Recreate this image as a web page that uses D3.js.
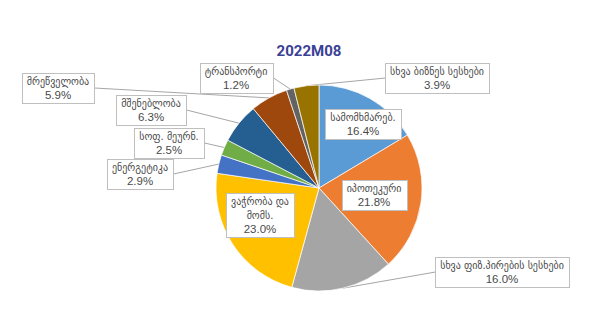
<!DOCTYPE html>
<html>
<head>
<meta charset="utf-8">
<script src="https://cdn.jsdelivr.net/npm/d3@7"></script>
<style>
  body { margin: 0; background: #fff; }
</style>
</head>
<body>
<div id="main"></div>
<script>
// chart data
const title = '2022M08';
const categories = [
  'სამომხმარებ.',
  'იპოთეკური',
  'სხვა ფიზ.პირების სესხები',
  'ვაჭრობა და\nმომს.',
  'ენერგეტიკა',
  'სოფ. მეურნ.',
  'მშენებლობა',
  'მრეწველობა',
  'ტრანსპორტი',
  'სხვა ბიზნეს სესხები'
];
const shares = [16.4, 21.8, 16.0, 23.0, 2.9, 2.5, 6.3, 5.9, 1.2, 3.9];
const colors = ['#5B9BD5', '#ED7D31', '#A5A5A5', '#FFC000', '#4472C4',
                '#70AD47', '#255E91', '#9E480E', '#636363', '#997300'];

// where each data label box sits (centre, px)
const labelCenters = [
  [363, 124], [374, 195], [502, 272], [260, 215], [140, 174],
  [169, 143], [151, 110], [58, 88], [236, 78], [437, 78]
];

const width = 616, height = 310;
const cx = 319, cy = 188, radius = 103;
const lineH = 14;

const svg = d3.select('#main').append('svg')
  .attr('width', width)
  .attr('height', height);

svg.append('text')
  .attr('x', 309)
  .attr('y', 56)
  .attr('text-anchor', 'middle')
  .attr('font-family', 'Roboto, "Liberation Sans", sans-serif')
  .attr('font-weight', 'bold')
  .attr('font-size', 15)
  .attr('fill', '#3B4195')
  .text(title);

const rows = categories.map((c, i) => ({ name: c, value: shares[i], color: colors[i], pos: labelCenters[i] }));

const pie = d3.pie().sort(null).value(d => d.value);
const arc = d3.arc().innerRadius(0).outerRadius(radius);
const arcs = pie(rows);

const leaders = svg.append('g');
const g = svg.append('g').attr('transform', `translate(${cx},${cy})`);

g.selectAll('path.slice')
  .data(arcs)
  .enter().append('path')
  .attr('class', 'slice')
  .attr('d', arc)
  .attr('fill', d => d.data.color)
  .attr('stroke', '#fff')
  .attr('stroke-width', 0.7);

const labels = svg.append('g');
const fmt = d3.format('.1f');

arcs.forEach(d => {
  const [lx, ly] = d.data.pos;
  const lines = d.data.name.split('\n').concat([fmt(d.data.value) + '%']);
  const lg = labels.append('g');
  const rect = lg.append('rect');
  const txt = lg.append('text')
    .attr('text-anchor', 'middle')
    .attr('fill', '#4A4A4A');
  lines.forEach((l, k) => {
    const isPct = k === lines.length - 1;
    txt.append('tspan')
      .attr('x', lx)
      .attr('y', ly - (lines.length - 1) * lineH / 2 + k * lineH + 4)
      .attr('font-family', isPct ? '"Liberation Sans", sans-serif' : '"DejaVu Sans", sans-serif')
      .attr('font-size', isPct ? 11.5 : 10)
      .text(l);
  });
  const bb = txt.node().getBBox();
  const w = Math.round(bb.width + 10), h = lines.length * lineH + 2;
  const x0 = Math.round(lx - w / 2) + 0.5, y0 = Math.round(ly - h / 2) + 0.5;
  rect.attr('x', x0).attr('y', y0).attr('width', w).attr('height', h)
    .attr('fill', '#fff')
    .attr('stroke', '#BFBFBF')
    .attr('stroke-width', 1);

  // leader line for labels placed outside the pie
  if (Math.hypot(lx - cx, ly - cy) > radius) {
    const mid = (d.startAngle + d.endAngle) / 2;
    const px = cx + radius * Math.sin(mid), py = cy - radius * Math.cos(mid);
    const ax = px < lx ? x0 : x0 + w;
    leaders.append('line')
      .attr('x1', ax).attr('y1', ly)
      .attr('x2', px).attr('y2', py)
      .attr('stroke', '#A6A6A6')
      .attr('stroke-width', 1);
  }
});
</script>
</body>
</html>
